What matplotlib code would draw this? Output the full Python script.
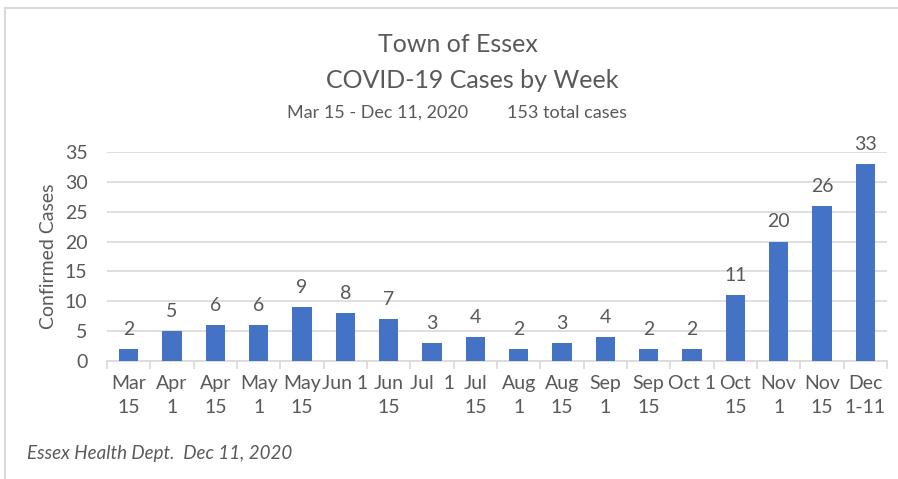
import numpy as np
import matplotlib.pyplot as plt
from matplotlib.lines import Line2D

weeks = ["Mar\n15", "Apr\n1", "Apr\n15", "May\n1", "May\n15", "Jun 1", "Jun\n15",
         "Jul  1", "Jul\n15", "Aug\n1", "Aug\n15", "Sep\n1", "Sep\n15", "Oct 1",
         "Oct\n15", "Nov\n1", "Nov\n15", "Dec\n1-11"]
cases = [2, 5, 6, 6, 9, 8, 7, 3, 4, 2, 3, 4, 2, 2, 11, 20, 26, 33]
yticks = [0, 5, 10, 15, 20, 25, 30, 35]

txt = "#595959"
bar_color = "#4472C4"
grid = "#D9D9D9"

plt.rcParams['font.family'] = ['Lato', 'DejaVu Sans']

fig = plt.figure(figsize=(8.98, 4.79), dpi=100)
ax = fig.add_axes([107 / 898, 118 / 479, 780 / 898, 209 / 479])

x = np.arange(len(cases))
ax.bar(x, cases, width=0.44, color=bar_color, zorder=3)
for xi, v in zip(x, cases):
    ax.annotate(str(v), (xi, v), xytext=(0, 8), textcoords="offset points",
                ha="center", va="bottom", fontsize=14, color=txt)

ax.set_xlim(-0.5, len(cases) - 0.5)
ax.set_ylim(0, 35)
ax.set_yticks(yticks)
ax.yaxis.grid(True, color=grid, linewidth=1.2, zorder=0)
ax.tick_params(axis="y", length=0, pad=14, labelsize=14, labelcolor=txt)

ax.set_xticks(x)
ax.set_xticklabels(weeks, linespacing=1.5)
ax.set_xticks(np.arange(-0.5, len(cases), 1), minor=True)
ax.tick_params(axis="x", which="major", length=0, pad=10, labelsize=14, labelcolor=txt)
ax.tick_params(axis="x", which="minor", length=6, color=grid, width=1.2)

for s in ["top", "right", "left"]:
    ax.spines[s].set_visible(False)
ax.spines["bottom"].set_color(grid)
ax.spines["bottom"].set_linewidth(1.2)

ax.set_ylabel("Confirmed Cases", fontsize=14, color=txt)
ax.yaxis.set_label_coords(-50 / 780, 0.5)

fig.text(458 / 898, 1 - 45 / 479, "Town of Essex", ha="center", va="center",
         fontsize=18, color=txt)
fig.text(472 / 898, 1 - 80 / 479, "COVID-19 Cases by Week", ha="center", va="center",
         fontsize=18, color=txt)
fig.text(468 / 898, 1 - 113 / 479, "Mar 15 - Dec 11, 2020",
         ha="right", va="center", fontsize=13, color=txt)
fig.text(507 / 898, 1 - 113 / 479, "153 total cases",
         ha="left", va="center", fontsize=13, color=txt)
fig.text(27 / 898, 1 - 453 / 479, "Essex Health Dept.  Dec 11, 2020", ha="left",
         va="center", fontsize=13.5, color=txt, style="italic")

fig.add_artist(Line2D([5 / 898, 5 / 898], [0, 1 - 8 / 479], color=grid, linewidth=1.5))
fig.add_artist(Line2D([5 / 898, 1], [1 - 8 / 479, 1 - 8 / 479], color=grid, linewidth=1.5))

fig.savefig("out.png", dpi=100)
